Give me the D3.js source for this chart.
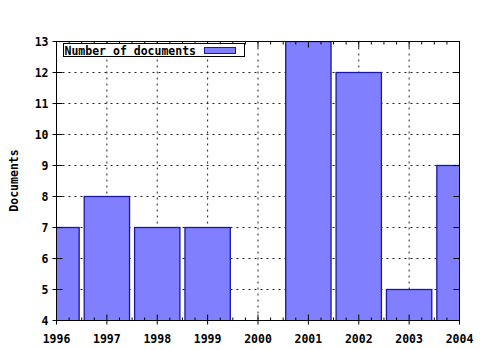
<!DOCTYPE html>
<html>
<head>
<meta charset="utf-8">
<script src="https://cdn.jsdelivr.net/npm/d3@7.9.0/dist/d3.min.js"></script>
<style>
  body { margin: 0; background: #fff; }
  svg { display: block; }
  text { font-family: "DejaVu Sans Mono", monospace; font-weight: bold; font-size: 11.5px; fill: #000; }
</style>
</head>
<body>
<svg width="480" height="350"></svg>
<script>
const years = [1996, 1997, 1998, 1999, 2000, 2001, 2002, 2003, 2004];
const documents = [7, 8, 7, 7, 0, 13, 12, 5, 9];
const yTicks = [4, 5, 6, 7, 8, 9, 10, 11, 12, 13];
const seriesName = 'Number of documents';
const yLabel = 'Documents';

const svg = d3.select('svg');
const margin = { left: 56, top: 41, right: 21, bottom: 30 };
const w = 480 - margin.left - margin.right;
const h = 350 - margin.top - margin.bottom;

let x = d3.scaleLinear().domain([1996, 2004]).range([0, w]);
let y = d3.scaleLinear().domain([4, 13]).range([h, 0]);

const g = svg.append('g').attr('transform', `translate(${margin.left + 0.5},${margin.top + 0.5})`);

g.append('clipPath').attr('id', 'plot')
  .append('rect').attr('x', 0).attr('y', 0).attr('width', w).attr('height', h);

// grid
g.selectAll('line.gx').data(years.slice(1, -1)).join('line')
  .attr('x1', d => x(d)).attr('x2', d => x(d)).attr('y1', 0).attr('y2', h)
  .attr('stroke', '#222').attr('stroke-dasharray', '2,4');
g.selectAll('line.gy').data(yTicks.slice(1, -1)).join('line')
  .attr('y1', d => y(d)).attr('y2', d => y(d)).attr('x1', 0).attr('x2', w)
  .attr('stroke', '#222').attr('stroke-dasharray', '2,4');

// bars
const bw = 0.9;
g.append('g').attr('clip-path', 'url(#plot)')
  .selectAll('rect').data(years).join('rect')
  .attr('x', (d) => x(d - bw / 2))
  .attr('width', x(1996 + bw) - x(1996))
  .attr('y', (d, i) => y(Math.max(documents[i], 0)))
  .attr('height', (d, i) => Math.max(0, y(4) - y(documents[i])) + 2)
  .attr('fill', '#8080ff')
  .attr('stroke', '#1818a0')
  .attr('stroke-width', 1.3);

// axes (ticks pointing inward)
const minor = d3.range(1996, 2004.01, 0.25).filter(v => Math.abs(v - Math.round(v)) > 0.01);
function tickLines(sel, data, pos, len, side) {
  sel.selectAll(null).data(data).join('line')
    .attr('stroke', '#000')
    .each(function (d) {
      const l = d3.select(this);
      if (side === 'bottom') l.attr('x1', pos(d)).attr('x2', pos(d)).attr('y1', h).attr('y2', h - len);
      if (side === 'top') l.attr('x1', pos(d)).attr('x2', pos(d)).attr('y1', 0).attr('y2', len);
      if (side === 'left') l.attr('y1', pos(d)).attr('y2', pos(d)).attr('x1', 0).attr('x2', len);
      if (side === 'right') l.attr('y1', pos(d)).attr('y2', pos(d)).attr('x1', w).attr('x2', w - len);
    });
}
const ticks = g.append('g');
tickLines(ticks, years, x, 6, 'bottom');
tickLines(ticks, years, x, 6, 'top');
tickLines(ticks, minor, x, 3, 'bottom');
tickLines(ticks, minor, x, 3, 'top');
tickLines(ticks, yTicks, y, 6, 'left');
tickLines(ticks, yTicks, y, 6, 'right');
// outward stubs on left and bottom like gnuplot
tickLines(ticks, yTicks, y, -4, 'left');
tickLines(ticks, years, x, -4, 'bottom');

g.append('rect').attr('width', w).attr('height', h)
  .attr('fill', 'none').attr('stroke', '#000');

// tick labels
g.selectAll('text.xl').data(years).join('text')
  .attr('x', d => x(d)).attr('y', h + 22)
  .attr('text-anchor', 'middle').text(d => d);
g.selectAll('text.yl').data(yTicks).join('text')
  .attr('x', -8).attr('y', d => y(d)).attr('dy', '0.36em')
  .attr('text-anchor', 'end').text(d => d);

svg.append('text')
  .attr('transform', `translate(18,${margin.top + h / 2}) rotate(-90)`)
  .attr('text-anchor', 'middle').text(yLabel);

// legend
const lg = g.append('g').attr('transform', 'translate(7,2)');
lg.append('rect').attr('width', 181).attr('height', 13).attr('fill', '#fff').attr('stroke', '#000');
lg.append('text').attr('x', 1).attr('y', 11).text(seriesName);
lg.append('rect').attr('x', 141).attr('y', 4).attr('width', 31).attr('height', 6)
  .attr('fill', '#8080ff').attr('stroke', '#1818a0');
</script>
</body>
</html>
